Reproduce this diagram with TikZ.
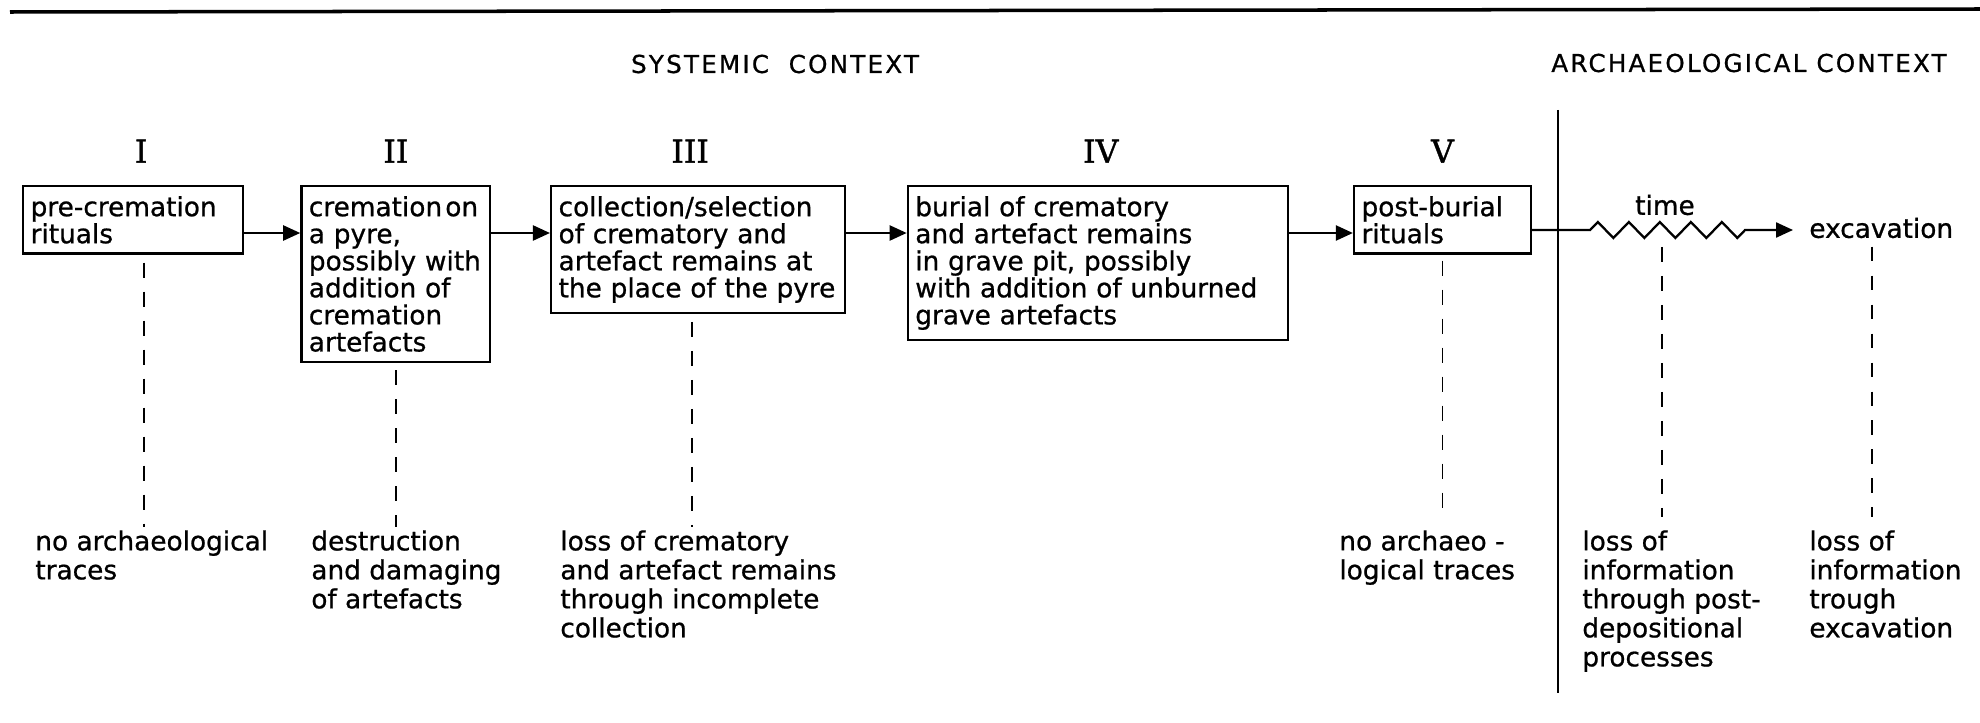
\documentclass[tikz,border=0pt]{standalone}
\usepackage{fontspec}
\setmainfont{DejaVu Sans}[FakeBold=0.8]
\newfontfamily\numfont{DejaVu Serif}[FakeBold=1.2]
\newfontfamily\headfont[LetterSpace=9, FakeBold=0.8]{DejaVu Sans}
\usetikzlibrary{arrows.meta, positioning, decorations.pathmorphing}

\begin{document}
\begin{tikzpicture}[
    x=0.02cm, y=-0.02cm,
    stage/.style={draw, line width=1.3pt, align=left, anchor=north west, inner xsep=0.15cm, inner ysep=0.2cm, font=\fontsize{15}{15.4}\selectfont},
    numeral/.style={inner sep=0, font=\numfont\fontsize{18}{18}\selectfont},
    context/.style={inner sep=0, font=\headfont\fontsize{14}{14}\selectfont},
    tag/.style={inner sep=0, font=\fontsize{15}{15.4}\selectfont},
    outcome/.style={anchor=north west, align=left, inner sep=0, font=\fontsize{15}{16.5}\selectfont},
    flow/.style={-{Triangle[length=0.34cm, width=0.3cm]}, line width=1.3pt},
    trace/.style={line width=1.1pt, dash pattern=on 8.5pt off 8pt},
    node distance=0.44cm
]
\useasboundingbox (0,0) rectangle (1980,723);

% headings and divider
\draw[line width=2pt] (10,12) -- (1980,9);
\node[context] (systemic) at (775,64) {SYSTEMIC\hspace{0.8em}CONTEXT};
\node[context] (archaeo) at (1749,63) {ARCHAEOLOGICAL CONTEXT};
\coordinate (divtop) at (1558,110);
\coordinate (divbot) at (1558,693);
\draw[line width=1.6pt] (divtop) -- (divbot);

% stages
\node[stage, text width=4.1cm] (precrem) at (22,185) {pre-cremation\\rituals};
\node[stage, text width=3.48cm, right=1.12cm of precrem.north east, anchor=north west] (cremation) {\mbox{cremation\hspace{0.12em}on}\\a pyre,\\possibly with\\addition of\\cremation\\artefacts};
\node[stage, text width=5.58cm, right=1.17cm of cremation.north east, anchor=north west] (collection) {collection/selection\\of crematory and\\artefact remains at\\the place of the pyre};
\node[stage, text width=7.3cm, right=1.21cm of collection.north east, anchor=north west] (burial) {burial of crematory\\and artefact remains\\in grave pit, possibly\\with addition of unburned\\grave artefacts};
\node[stage, text width=3.24cm, right=1.28cm of burial.north east, anchor=north west] (postburial) {post-burial\\rituals};

\node[numeral, above=of precrem, xshift=0.16cm] (n1) {I};
\node[numeral, above=of cremation] (n2) {II};
\node[numeral, above=of collection, xshift=-0.16cm] (n3) {III};
\node[numeral, above=of burial, xshift=0.06cm] (n4) {IV};
\node[numeral, above=of postburial] (n5) {V};

\coordinate (flowline) at (0,233);
\draw[flow] (precrem.east |- flowline) -- (cremation.west |- flowline);
\draw[flow] (cremation.east |- flowline) -- (collection.west |- flowline);
\draw[flow] (collection.east |- flowline) -- (burial.west |- flowline);
\draw[flow] (burial.east |- flowline) -- (postburial.west |- flowline);

% archaeological context
\coordinate (timeline) at (0,230);
\coordinate (zzmid) at (1662,230);
\node[tag] (tm) at (1665,205) {time};
\node[tag, anchor=west] (excav) at (1809,228) {excavation};
\draw[flow, shorten >=0.32cm] (postburial.east |- timeline) -- ++(1.16cm,0)
    decorate[decoration={zigzag, segment length=0.62cm, amplitude=0.16cm}] {-- ++(3.1cm,0)}
    -- (timeline -| excav.west);

% outcomes
\node[outcome] (notrace) at (35,530) {no archaeological\\traces};
\node[outcome] (destruct) at (311,530) {destruction\\and damaging\\of artefacts};
\node[outcome] (lossrem) at (560,530) {loss of crematory\\and artefact remains\\through incomplete\\collection};
\node[outcome] (notrace2) at (1339,530) {no archaeo -\\logical traces};
\node[outcome] (losspost) at (1582,530) {loss of\\information\\through post-\\depositional\\processes};
\node[outcome] (lossexc) at (1809,530) {loss of\\information\\trough\\excavation};

\draw[trace, shorten <=0.16cm, shorten >=0.06cm] ([xshift=0.22cm]precrem.south) -- ([xshift=0.22cm]precrem.south |- notrace.north);
\draw[trace, shorten <=0.15cm, shorten >=0.06cm] (cremation.south) -- (cremation.south |- destruct.north);
\draw[trace, shorten <=0.16cm, shorten >=0.06cm] ([xshift=-0.12cm]collection.south) -- ([xshift=-0.12cm]collection.south |- lossrem.north);
\draw[trace, shorten <=0.12cm, shorten >=0.26cm] (postburial.south) -- (postburial.south |- notrace2.north);
\draw[trace, shorten <=0.34cm, shorten >=0.26cm] (zzmid) -- (zzmid |- losspost.north);
\draw[trace, shorten <=0.16cm, shorten >=0.26cm] ([xshift=-0.18cm]excav.south) -- ([xshift=-0.18cm]excav.south |- lossexc.north);
\end{tikzpicture}
\end{document}
